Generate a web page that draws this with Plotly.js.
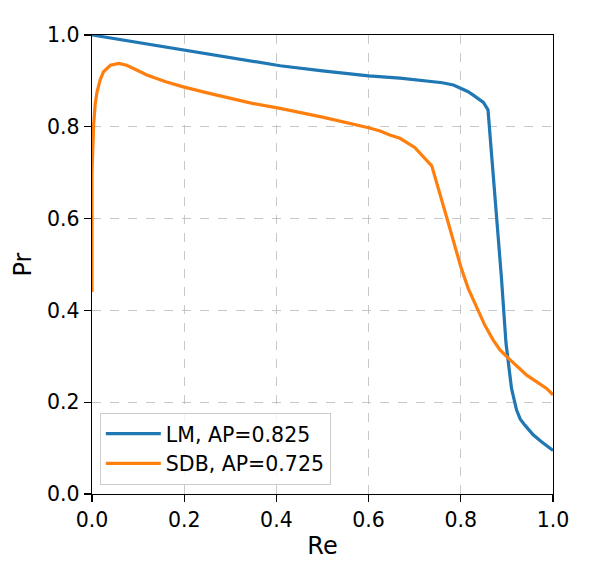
<!DOCTYPE html>
<html>
<head>
<meta charset="utf-8">
<script src="https://cdn.plot.ly/plotly-3.0.1.min.js"></script>
<style>html,body{margin:0;padding:0;background:#fff;}#chart{width:597px;height:573px;}</style>
</head>
<body>
<div id="chart"></div>
<script>
const lmRe = [0, 0.1, 0.198, 0.3, 0.343, 0.408, 0.5, 0.6, 0.668, 0.733, 0.760, 0.784, 0.8, 0.815, 0.827, 0.849, 0.859, 0.868, 0.877, 0.888, 0.898, 0.903, 0.910, 0.921, 0.929, 0.939, 0.957, 0.975, 0.997, 1.0];
const lmPr = [1.0, 0.984, 0.967, 0.951, 0.944, 0.933, 0.922, 0.911, 0.906, 0.900, 0.896, 0.891, 0.884, 0.877, 0.869, 0.853, 0.837, 0.73, 0.619, 0.473, 0.329, 0.290, 0.230, 0.183, 0.163, 0.150, 0.129, 0.114, 0.096, 0.095];
const sdbRe = [0, 0.0, 0.0035, 0.007, 0.011, 0.018, 0.025, 0.04, 0.058, 0.075, 0.09, 0.119, 0.16, 0.198, 0.25, 0.3, 0.343, 0.408, 0.5, 0.6, 0.625, 0.646, 0.668, 0.70, 0.737, 0.769, 0.8, 0.816, 0.834, 0.852, 0.870, 0.885, 0.903, 0.943, 0.986, 1.0];
const sdbPr = [0.44, 0.70, 0.804, 0.85, 0.876, 0.903, 0.92, 0.934, 0.938, 0.934, 0.927, 0.913, 0.898, 0.887, 0.874, 0.862, 0.852, 0.840, 0.821, 0.798, 0.791, 0.782, 0.775, 0.755, 0.715, 0.604, 0.495, 0.448, 0.408, 0.368, 0.336, 0.314, 0.296, 0.259, 0.230, 0.216];
const seriesNames = ["LM, AP=0.825", "SDB, AP=0.725"];
const tickVals = [0, 0.2, 0.4, 0.6, 0.8, 1.0];
const tickText = ["0.0", "0.2", "0.4", "0.6", "0.8", "1.0"];

const font = "DejaVu Sans, sans-serif";
const axisCommon = {
  range: [0, 1],
  tickvals: tickVals,
  ticktext: tickText,
  ticks: "outside",
  ticklen: 7,
  tickwidth: 1.3,
  tickcolor: "#000",
  showline: true,
  linecolor: "#000",
  linewidth: 1.3,
  mirror: true,
  showgrid: true,
  gridcolor: "rgba(176,176,176,0.7)",
  griddash: "dash",
  gridwidth: 1.1,
  zeroline: false,
  tickfont: {family: font, size: 20.5, color: "#000"}
};

const data = [
  {x: lmRe, y: lmPr, mode: "lines", name: seriesNames[0], line: {color: "#1f77b4", width: 3.2}},
  {x: sdbRe, y: sdbPr, mode: "lines", name: seriesNames[1], line: {color: "#ff7f0e", width: 3.2}}
];

const layout = {
  width: 597, height: 573,
  margin: {l: 92, r: 44, t: 35, b: 79},
  paper_bgcolor: "#fff",
  plot_bgcolor: "#fff",
  xaxis: Object.assign({}, axisCommon, {title: {text: "Re", font: {family: font, size: 24, color: "#000"}, standoff: 6}}),
  yaxis: Object.assign({}, axisCommon, {title: {text: "Pr", font: {family: font, size: 24, color: "#000"}, standoff: 8}}),
  showlegend: true,
  legend: {
    x: 0.017, y: 0.02, xanchor: "left", yanchor: "bottom",
    bgcolor: "rgba(255,255,255,0.8)",
    bordercolor: "#cccccc", borderwidth: 1,
    font: {family: font, size: 20.5, color: "#000"},
    itemwidth: 55,
    tracegroupgap: 0
  }
};

Plotly.newPlot("chart", data, layout, {displayModeBar: false, staticPlot: true});
</script>
</body>
</html>
